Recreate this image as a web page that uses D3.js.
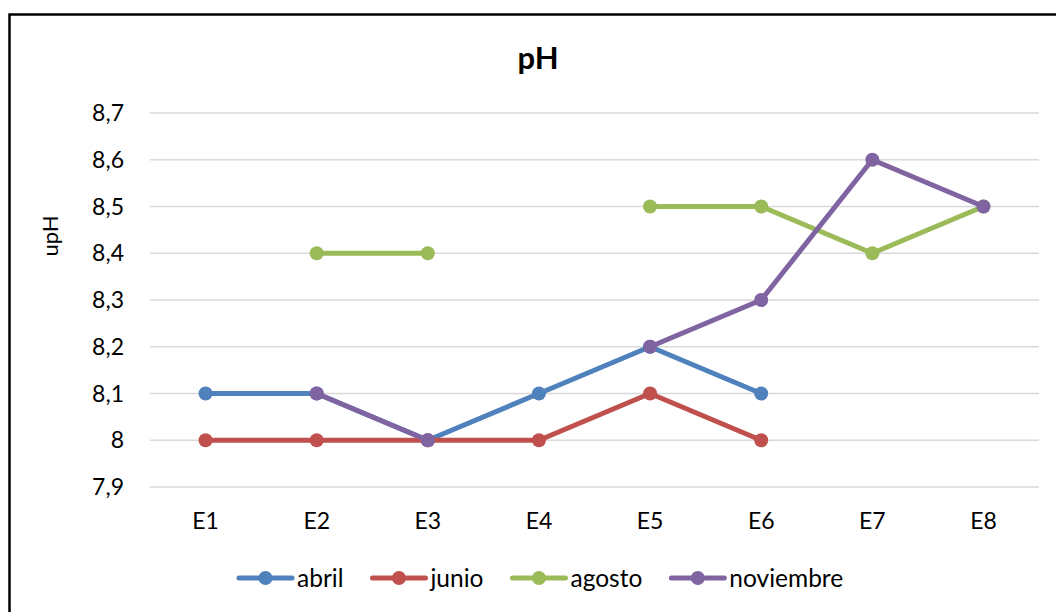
<!DOCTYPE html>
<html>
<head>
<meta charset="utf-8">
<script src="https://cdn.jsdelivr.net/npm/d3@7"></script>
<style>
  body { margin: 0; background: #fff; }
  svg { display: block; font-family: Lato, "Open Sans", sans-serif; }
</style>
</head>
<body>
<div id="chart"></div>
<script>
const categories = ["E1", "E2", "E3", "E4", "E5", "E6", "E7", "E8"];
const abril = [8.1, 8.1, 8.0, 8.1, 8.2, 8.1, null, null];
const junio = [8.0, 8.0, 8.0, 8.0, 8.1, 8.0, null, null];
const agosto = [null, 8.4, 8.4, null, 8.5, 8.5, 8.4, 8.5];
const noviembre = [null, 8.1, 8.0, null, 8.2, 8.3, 8.6, 8.5];
const yTicks = [7.9, 8.0, 8.1, 8.2, 8.3, 8.4, 8.5, 8.6, 8.7];

const series = [
    {name: "abril", values: abril, color: "#4F81BD"},
    {name: "junio", values: junio, color: "#C0504D"},
    {name: "agosto", values: agosto, color: "#9BBB59"},
    {name: "noviembre", values: noviembre, color: "#8064A2"}
];

const width = 1056;
const height = 612;
const margin = ({top: 113, right: 17, bottom: 125, left: 150});

const svg = d3.select("#chart").append("svg")
      .attr("width", width)
      .attr("height", height);

// chart frame (bottom and right run off the page)
svg.append("rect")
    .attr("x", 9.5).attr("y", 14.5)
    .attr("width", 1100).attr("height", 700)
    .attr("fill", "none")
    .attr("stroke", "#000")
    .attr("stroke-width", 2.5);

const x = d3.scaleBand()
      .domain(categories)
      .range([margin.left, width - margin.right]);

const y = d3.scaleLinear()
      .domain([7.9, 8.7])
      .range([height - margin.bottom, margin.top]);

const fmt = d => d3.format(".1f")(d).replace(".", ",").replace(",0", "");

// gridlines
svg.append("g")
    .selectAll("line")
    .data(yTicks)
    .join("line")
    .attr("x1", margin.left)
    .attr("x2", width - margin.right)
    .attr("y1", d => y(d))
    .attr("y2", d => y(d))
    .attr("stroke", "#d9d9d9")
    .attr("stroke-width", 1.3);

// y labels
svg.append("g")
    .selectAll("text")
    .data(yTicks)
    .join("text")
    .attr("x", 124)
    .attr("y", d => y(d))
    .attr("dy", "0.35em")
    .attr("text-anchor", "end")
    .attr("font-size", 23)
    .attr("fill", "#000")
    .text(fmt);

// x labels
svg.append("g")
    .selectAll("text")
    .data(categories)
    .join("text")
    .attr("x", d => x(d) + x.bandwidth() / 2)
    .attr("y", 529)
    .attr("text-anchor", "middle")
    .attr("font-size", 23)
    .attr("fill", "#000")
    .text(d => d);

// title
svg.append("text")
    .attr("x", 538)
    .attr("y", 69)
    .attr("text-anchor", "middle")
    .attr("font-size", 31)
    .attr("font-weight", "bold")
    .text("pH");

// y axis title
svg.append("text")
    .attr("transform", "translate(50,236) rotate(-90)")
    .attr("dy", "0.35em")
    .attr("text-anchor", "middle")
    .attr("font-size", 22)
    .text("upH");

const cx = i => x(categories[i]) + x.bandwidth() / 2;

const line = d3.line()
      .defined(d => d != null)
      .x((d, i) => cx(i))
      .y(d => y(d));

series.forEach(s => {
    const g = svg.append("g");
    g.append("path")
        .datum(s.values)
        .attr("fill", "none")
        .attr("stroke", s.color)
        .attr("stroke-width", 5)
        .attr("stroke-linejoin", "round")
        .attr("stroke-linecap", "round")
        .attr("d", line);
    g.selectAll("circle")
        .data(s.values.map((v, i) => ({v, i})).filter(d => d.v != null))
        .join("circle")
        .attr("cx", d => cx(d.i))
        .attr("cy", d => y(d.v))
        .attr("r", 7)
        .attr("fill", s.color);
});

// legend
const legend = svg.append("g");
let lx = 239;
const ly = 578;
series.forEach(s => {
    legend.append("line")
        .attr("x1", lx).attr("x2", lx + 53)
        .attr("y1", ly).attr("y2", ly)
        .attr("stroke", s.color)
        .attr("stroke-width", 5)
        .attr("stroke-linecap", "round");
    legend.append("circle")
        .attr("cx", lx + 26.5).attr("cy", ly)
        .attr("r", 7)
        .attr("fill", s.color);
    const t = legend.append("text")
        .attr("x", lx + 58)
        .attr("y", ly)
        .attr("dy", "0.35em")
        .attr("font-size", 24.5)
        .text(s.name);
    lx += 58 + t.node().getComputedTextLength() + 29;
});
</script>
</body>
</html>
